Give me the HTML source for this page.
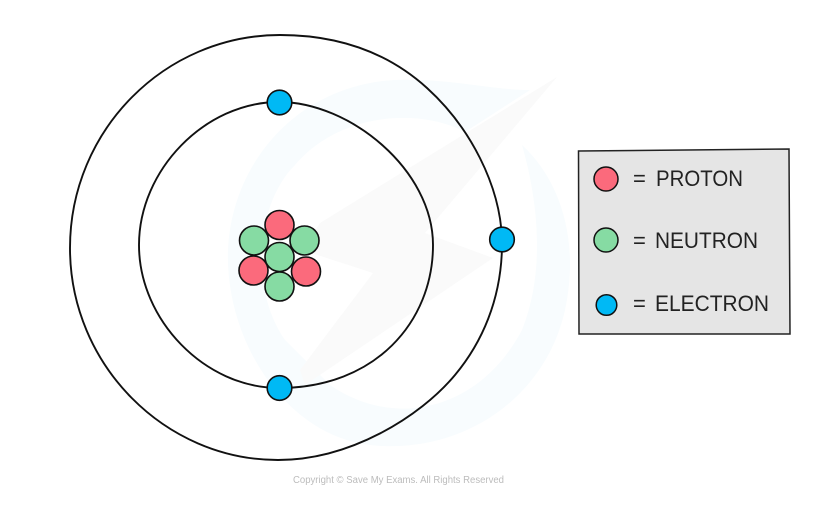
<!DOCTYPE html>
<html><head><meta charset="utf-8"><style>
html,body{margin:0;padding:0;background:#fff;width:836px;height:520px;overflow:hidden}
svg{display:block}
text{font-family:"Liberation Sans",sans-serif}
</style></head><body>
<svg width="836" height="520" viewBox="0 0 836 520" xmlns="http://www.w3.org/2000/svg">
<!-- watermark -->
<g>
<path fill-rule="evenodd" d="M228 250C232 160 300 85 395 80C450 78 490 90 530 90L465 132C420 108 340 112 295 165C255 205 250 290 285 340L330 385C395 430 480 410 522 330C548 265 535 190 522 145C560 180 580 240 565 310C545 400 460 455 370 445C285 435 225 340 228 250Z" fill="#f8fcfe"/>
<path d="M557 77L320 223L302 250L373 273L300 370L305 385L493 258L425 233Z" fill="#fafafa"/>
</g>
<!-- shells -->
<g fill="none" stroke="#111" stroke-width="1.9">
<path d="M279 102C350 102 433 170 433 245C433 322 375 388 279 388C205 388 139 320 139 245C139 170 205 102 279 102Z"/>
<path d="M280 35C335 35 385 50 427 88C470 127 500 185 502 239C503 300 480 345 455 375C420 417 350 460 278 460C165 460 70 365 70 248C70 130 165 35 280 35Z"/>
</g>
<!-- nucleus -->
<g stroke="#111" stroke-width="1.6">
<circle cx="279.500" cy="225" r="14.500" fill="#fb6a7c"/>
<circle cx="254" cy="240.500" r="14.500" fill="#86dba3"/>
<circle cx="304.500" cy="240.500" r="14.500" fill="#86dba3"/>
<circle cx="253.500" cy="270.500" r="14.500" fill="#fb6a7c"/>
<circle cx="306" cy="271.500" r="14.500" fill="#fb6a7c"/>
<circle cx="279.500" cy="286.500" r="14.500" fill="#86dba3"/>
<circle cx="279.500" cy="257" r="14.500" fill="#86dba3"/>
</g>
<!-- electrons -->
<g fill="#00b9f5" stroke="#111" stroke-width="1.6">
<circle cx="279.500" cy="102.500" r="12.300"/>
<circle cx="502" cy="239.500" r="12.300"/>
<circle cx="279.500" cy="388" r="12.300"/>
</g>
<!-- key -->
<path d="M578.500 151L789 149L790 334L579 334Z" fill="#e5e5e5" stroke="#222" stroke-width="1.5"/>
<g stroke="#111" stroke-width="1.5">
<circle cx="606" cy="179" r="12" fill="#fb6a7c"/>
<circle cx="606" cy="240" r="12" fill="#86dba3"/>
<circle cx="606.500" cy="305" r="10.300" fill="#00b9f5"/>
</g>
<g font-size="22" fill="#222">
<text x="633" y="186">=</text>
<text x="656" y="186" textLength="87" lengthAdjust="spacingAndGlyphs">PROTON</text>
<text x="633" y="248">=</text>
<text x="655" y="248" textLength="103" lengthAdjust="spacingAndGlyphs">NEUTRON</text>
<text x="633" y="311">=</text>
<text x="655" y="311" textLength="114" lengthAdjust="spacingAndGlyphs">ELECTRON</text>
</g>
<text x="293" y="483" font-size="10" fill="#bcbcbc" textLength="211" lengthAdjust="spacingAndGlyphs">Copyright © Save My Exams. All Rights Reserved</text>
</svg>
</body></html>
